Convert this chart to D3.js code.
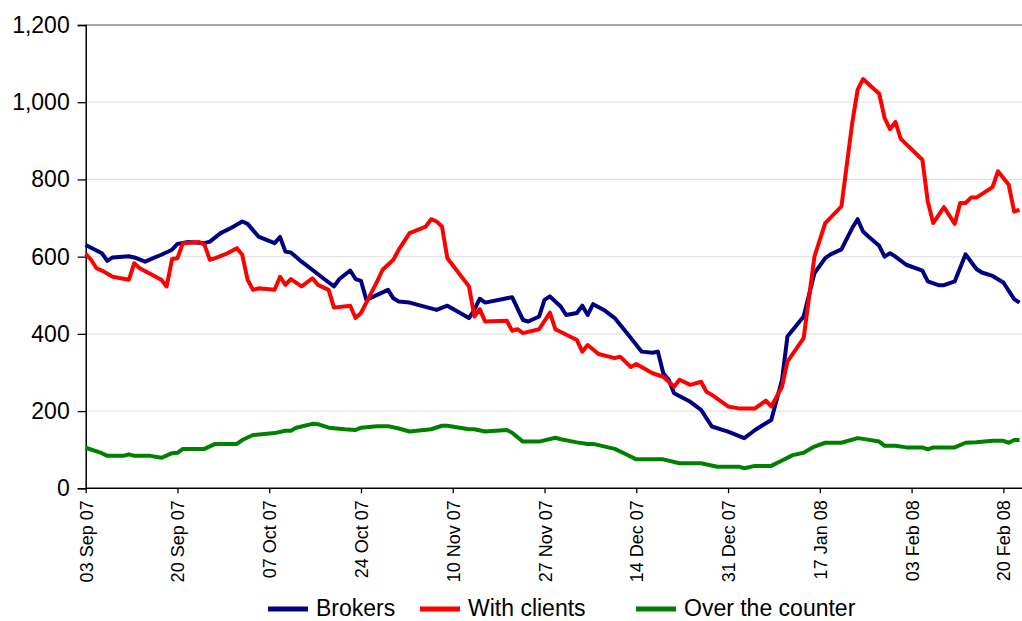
<!DOCTYPE html>
<html>
<head>
<meta charset="utf-8">
<script src="https://cdn.jsdelivr.net/npm/d3@7"></script>
<style>
  body { margin: 0; background: #fff; }
  svg { display: block; font-family: Arial, "Liberation Sans", sans-serif; }
</style>
</head>
<body>
<div id="chart"></div>
<script>
// series: [date, value] pairs per series
var brokersDates = ["2007-09-03","2007-09-05","2007-09-06","2007-09-07","2007-09-08","2007-09-11","2007-09-12","2007-09-14","2007-09-17","2007-09-19","2007-09-20","2007-09-22","2007-09-25","2007-09-26","2007-09-28","2007-09-30","2007-10-02","2007-10-03","2007-10-05","2007-10-08","2007-10-09","2007-10-10","2007-10-11","2007-10-13","2007-10-16","2007-10-17","2007-10-19","2007-10-20","2007-10-22","2007-10-23","2007-10-24","2007-10-25","2007-10-27","2007-10-29","2007-10-30","2007-10-31","2007-11-02","2007-11-07","2007-11-09","2007-11-13","2007-11-14","2007-11-15","2007-11-16","2007-11-21","2007-11-23","2007-11-24","2007-11-26","2007-11-27","2007-11-28","2007-11-30","2007-12-01","2007-12-03","2007-12-04","2007-12-05","2007-12-06","2007-12-08","2007-12-10","2007-12-13","2007-12-15","2007-12-17","2007-12-18","2007-12-19","2007-12-20","2007-12-21","2007-12-24","2007-12-26","2007-12-28","2007-12-31","2008-01-03","2008-01-05","2008-01-08","2008-01-10","2008-01-11","2008-01-14","2008-01-16","2008-01-18","2008-01-19","2008-01-21","2008-01-23","2008-01-24","2008-01-25","2008-01-26","2008-01-28","2008-01-29","2008-01-30","2008-01-31","2008-02-02","2008-02-05","2008-02-06","2008-02-08","2008-02-09","2008-02-11","2008-02-13","2008-02-15","2008-02-16","2008-02-18","2008-02-20","2008-02-22","2008-02-23"];
var brokersValues = [630,616,609,589,598,601,598,587,605,618,633,638,635,639,661,675,691,685,652,635,651,613,611,587,555,544,523,542,564,542,537,488,501,514,492,484,481,462,473,441,462,491,481,495,436,432,445,488,497,471,449,454,473,449,477,462,441,389,354,351,354,298,281,246,224,203,160,147,130,151,177,281,393,445,557,596,606,619,674,697,665,652,628,600,609,600,579,564,536,526,526,536,606,568,559,550,533,490,481];

var clientsDates = ["2007-09-03","2007-09-04","2007-09-05","2007-09-06","2007-09-08","2007-09-11","2007-09-12","2007-09-13","2007-09-17","2007-09-18","2007-09-19","2007-09-20","2007-09-21","2007-09-24","2007-09-25","2007-09-26","2007-09-27","2007-09-29","2007-10-01","2007-10-02","2007-10-03","2007-10-04","2007-10-05","2007-10-08","2007-10-09","2007-10-10","2007-10-11","2007-10-13","2007-10-15","2007-10-16","2007-10-18","2007-10-19","2007-10-22","2007-10-23","2007-10-24","2007-10-27","2007-10-28","2007-10-30","2007-10-31","2007-11-02","2007-11-05","2007-11-06","2007-11-07","2007-11-08","2007-11-09","2007-11-13","2007-11-14","2007-11-15","2007-11-16","2007-11-20","2007-11-21","2007-11-22","2007-11-23","2007-11-26","2007-11-28","2007-11-29","2007-12-03","2007-12-04","2007-12-05","2007-12-07","2007-12-10","2007-12-11","2007-12-13","2007-12-14","2007-12-17","2007-12-19","2007-12-21","2007-12-22","2007-12-24","2007-12-26","2007-12-27","2007-12-28","2007-12-31","2008-01-02","2008-01-05","2008-01-07","2008-01-08","2008-01-10","2008-01-11","2008-01-14","2008-01-16","2008-01-18","2008-01-21","2008-01-23","2008-01-24","2008-01-25","2008-01-28","2008-01-29","2008-01-30","2008-01-31","2008-02-01","2008-02-05","2008-02-06","2008-02-07","2008-02-09","2008-02-11","2008-02-12","2008-02-13","2008-02-14","2008-02-15","2008-02-18","2008-02-19","2008-02-21","2008-02-22","2008-02-23"];
var clientsValues = [607,592,570,564,548,540,583,570,540,523,594,596,635,638,631,592,596,607,622,605,540,514,518,514,548,527,542,523,544,527,514,468,473,441,454,536,566,592,618,661,678,697,691,678,596,523,445,464,432,434,408,412,402,412,455,412,384,354,371,348,337,341,314,322,298,289,263,281,268,276,250,242,212,207,207,227,212,263,328,389,600,687,730,946,1032,1060,1022,959,930,949,905,851,743,687,728,685,739,739,753,753,780,821,786,717,721];

var otcDates = ["2007-09-03","2007-09-06","2007-09-07","2007-09-10","2007-09-11","2007-09-12","2007-09-15","2007-09-17","2007-09-19","2007-09-20","2007-09-21","2007-09-25","2007-09-27","2007-10-01","2007-10-02","2007-10-04","2007-10-08","2007-10-10","2007-10-11","2007-10-12","2007-10-15","2007-10-16","2007-10-18","2007-10-21","2007-10-23","2007-10-24","2007-10-27","2007-10-29","2007-10-31","2007-11-02","2007-11-06","2007-11-08","2007-11-09","2007-11-13","2007-11-14","2007-11-16","2007-11-20","2007-11-21","2007-11-23","2007-11-26","2007-11-29","2007-11-30","2007-12-03","2007-12-05","2007-12-06","2007-12-10","2007-12-12","2007-12-14","2007-12-19","2007-12-22","2007-12-26","2007-12-29","2008-01-02","2008-01-03","2008-01-05","2008-01-08","2008-01-10","2008-01-12","2008-01-14","2008-01-16","2008-01-18","2008-01-21","2008-01-24","2008-01-25","2008-01-28","2008-01-29","2008-01-31","2008-02-02","2008-02-05","2008-02-06","2008-02-07","2008-02-11","2008-02-13","2008-02-15","2008-02-18","2008-02-20","2008-02-21","2008-02-22","2008-02-23"];
var otcValues = [105,91,84,84,88,84,84,79,91,92,102,102,115,115,125,138,143,149,149,157,167,166,157,153,151,157,161,161,155,147,153,162,162,153,153,147,151,144,121,121,131,127,119,115,115,102,89,75,75,65,65,56,56,52,58,58,72,86,92,108,118,118,130,128,121,110,110,106,106,101,106,106,118,119,123,123,118,125,125];

var seriesNames = ["Brokers", "With clients", "Over the counter"];
var seriesColors = ["#000080", "#ff0000", "#008000"];
var yTicks = [0, 200, 400, 600, 800, 1000, 1200];

var width = 1022, height = 621;
var plotLeft = 85.7, plotTop = 25, plotBottom = 488.3;
var pxPerDay = 5.398;

var parseDate = d3.utcParse("%Y-%m-%d");
var fmtDate = d3.utcFormat("%d %b %y");
var startDate = parseDate("2007-09-03");
var endDate = parseDate("2008-02-24");

var x = d3.scaleUtc()
    .domain([startDate, endDate])
    .range([plotLeft, plotLeft + pxPerDay * 174]);
var y = d3.scaleLinear()
    .domain([0, 1200])
    .range([plotBottom, plotTop]);

var xTicks = d3.range(0, 11).map(function(i){
    return d3.utcDay.offset(startDate, 17 * i);
});

function zipSeries(dates, values){
    return dates.map(function(d, i){
        return { date: parseDate(d), value: values[i] };
    });
}
var series = [
    zipSeries(brokersDates, brokersValues),
    zipSeries(clientsDates, clientsValues),
    zipSeries(otcDates, otcValues)
];

var svg = d3.select("#chart").append("svg")
    .attr("width", width)
    .attr("height", height);

// gridlines
svg.append("g").selectAll("line")
    .data(yTicks.filter(function(t){ return t > 0; }))
    .enter()
    .append("line")
    .attr("x1", plotLeft)
    .attr("x2", width)
    .attr("y1", function(d){ return y(d); })
    .attr("y2", function(d){ return y(d); })
    .attr("stroke", function(d){ return d === 1200 ? "#8a8a8a" : "#e4e4e4"; })
    .attr("stroke-width", function(d){ return d === 1200 ? 1.5 : 1.3; });

// y axis
var yAxis = d3.axisLeft(y)
    .tickValues(yTicks)
    .tickSize(8)
    .tickPadding(8)
    .tickFormat(d3.format(","));
var yAxisGroup = svg.append("g")
    .attr("transform", "translate(" + plotLeft + ",0)")
    .call(yAxis);
yAxisGroup.select(".domain").attr("stroke", "#000").attr("stroke-width", 1.5);
yAxisGroup.selectAll(".tick line").attr("stroke", "#000").attr("stroke-width", 1.3);
yAxisGroup.selectAll(".tick text")
    .attr("font-size", 23)
    .attr("font-family", "Arial, 'Liberation Sans', sans-serif")
    .attr("fill", "#000");

// x axis
var xAxis = d3.axisBottom(x)
    .tickValues(xTicks)
    .tickSize(5)
    .tickSizeOuter(0)
    .tickFormat(fmtDate);
var xAxisGroup = svg.append("g")
    .attr("transform", "translate(0," + plotBottom + ")")
    .call(xAxis);
xAxisGroup.select(".domain")
    .attr("d", "M" + plotLeft + ",0H" + width)
    .attr("stroke", "#000").attr("stroke-width", 1.5);
xAxisGroup.selectAll(".tick line").attr("stroke", "#000").attr("stroke-width", 1.3);
xAxisGroup.selectAll(".tick text")
    .attr("font-size", 18)
    .attr("font-family", "Arial, 'Liberation Sans', sans-serif")
    .attr("fill", "#000")
    .attr("text-anchor", "end")
    .attr("transform", "rotate(-90)")
    .attr("x", -12)
    .attr("y", 0)
    .attr("dy", "0.36em");

// lines
var line = d3.line()
    .x(function(d){ return x(d.date); })
    .y(function(d){ return y(d.value); });

svg.append("g").selectAll("path")
    .data(series)
    .enter()
    .append("path")
    .attr("d", line)
    .attr("fill", "none")
    .attr("stroke", function(d, i){ return seriesColors[i]; })
    .attr("stroke-width", 4)
    .attr("stroke-linejoin", "round");

// legend
var legendX = [268, 420, 636];
var legend = svg.append("g").selectAll("g")
    .data(seriesNames)
    .enter()
    .append("g")
    .attr("transform", function(d, i){ return "translate(" + legendX[i] + ",609)"; });
legend.append("line")
    .attr("x1", 0).attr("x2", 40)
    .attr("stroke", function(d, i){ return seriesColors[i]; })
    .attr("stroke-width", 5);
legend.append("text")
    .attr("x", 48)
    .attr("y", 7)
    .attr("font-size", 23)
    .attr("fill", "#000")
    .text(function(d){ return d; });
</script>
</body>
</html>
